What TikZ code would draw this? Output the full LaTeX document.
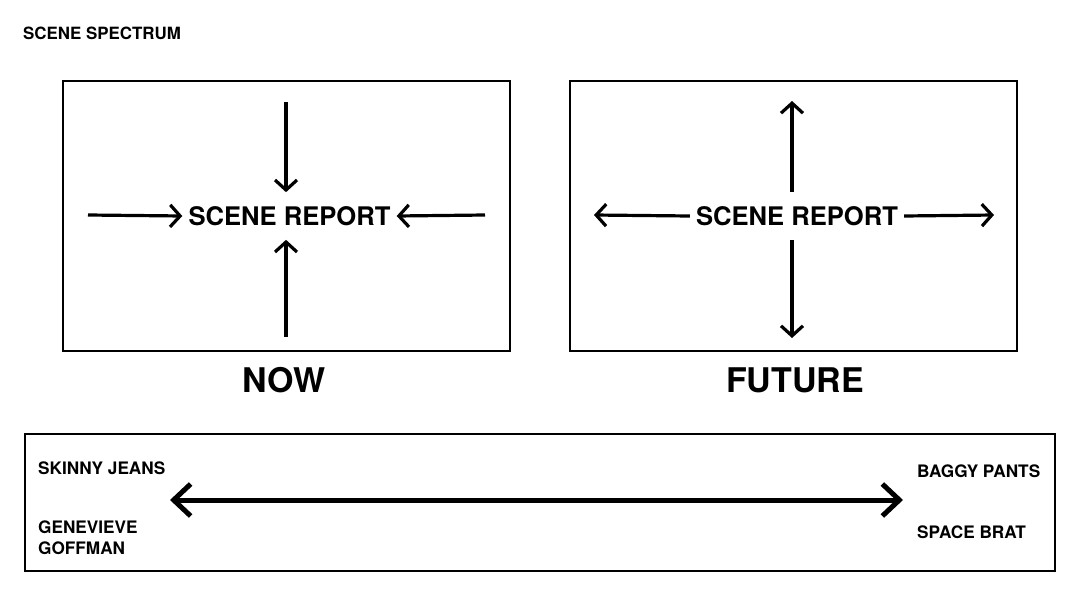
\documentclass[tikz,border=0pt]{standalone}
\usepackage{fontspec}
\setmainfont{TeX Gyre Heros}
\usetikzlibrary{arrows.meta, positioning}

\begin{document}
\begin{tikzpicture}[x=1pt, y=-1pt,
    panel/.style={draw, line width=1.6pt, inner sep=0pt},
    arr/.style={line width=3.2pt, -{Straight Barb[length=10pt, width=22pt]}},
    bigarr/.style={line width=5pt, {Straight Barb[length=17pt, width=32pt]}-{Straight Barb[length=17pt, width=32pt]}},
    report/.style={font=\fontsize{25.6}{28}\selectfont\bfseries, inner xsep=6pt, inner ysep=14pt},
    caption/.style={font=\fontsize{34}{38}\selectfont\bfseries},
    tag/.style={font=\fontsize{17.2}{21}\selectfont\bfseries, anchor=west, align=left, inner sep=0pt}]
    \useasboundingbox (0,0) rectangle (1080,608);

    \node[anchor=west, inner sep=0pt, font=\fontsize{16.9}{19}\selectfont\bfseries] (title) at (23,33) {SCENE SPECTRUM};

    % now
    \node[panel, minimum width=447pt, minimum height=270pt] (nowbox) at (286.5,216) {};
    \node[report] (nowrep) at (289.5,216) {SCENE REPORT};
    \coordinate (nowN) at (286,102);
    \coordinate (nowS) at (286,337);
    \coordinate (nowW) at (88,215);
    \coordinate (nowE) at (485,215);
    \draw[arr] (nowN) -- (nowN |- nowrep.north);
    \draw[arr] (nowS) -- (nowS |- nowrep.south);
    \draw[arr] (nowW) -- (nowrep.west);
    \draw[arr] (nowE) -- (nowrep.east);
    \node[caption] (now) at (284,380) {NOW};

    % future
    \node[panel, minimum width=447pt, minimum height=270pt] (futbox) at (793.5,216) {};
    \node[report] (futrep) at (797,216) {SCENE REPORT};
    \coordinate (futN) at (792,101);
    \coordinate (futS) at (792,338);
    \coordinate (futW) at (594,215);
    \coordinate (futE) at (994,215);
    \draw[arr] (futN |- futrep.north) -- (futN);
    \draw[arr] (futS |- futrep.south) -- (futS);
    \draw[arr] (futrep.west) -- (futW);
    \draw[arr] (futrep.east) -- (futE);
    \node[caption] (future) at (795,380) {FUTURE};

    % spectrum
    \node[panel, minimum width=1030pt, minimum height=137pt] (spanbox) at (540,502.5) {};
    \coordinate (spanL) at (170,500);
    \coordinate (spanR) at (903,500);
    \draw[bigarr] (spanL) -- (spanR);
    \node[tag] (skinny) at (38,468) {SKINNY JEANS};
    \node[tag] (goffman) at (38,538) {GENEVIEVE\\GOFFMAN};
    \node[tag] (baggy) at (917,471) {BAGGY PANTS};
    \node[tag] (brat) at (917,532) {SPACE BRAT};
\end{tikzpicture}
\end{document}
